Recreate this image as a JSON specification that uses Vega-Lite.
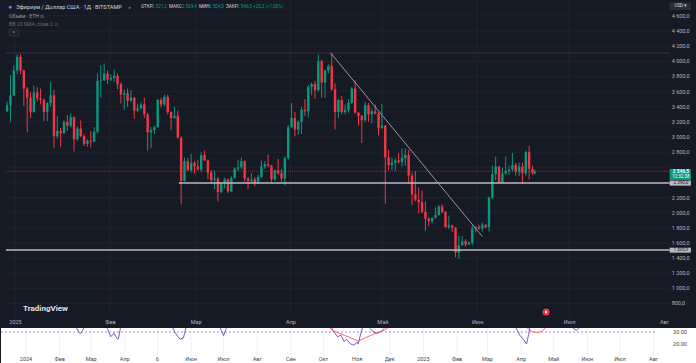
{
  "$schema": "https://vega.github.io/schema/vega-lite/v6.json",
  "padding": 0,
  "spacing": 0,
  "background": "#161A25",
  "config": {
    "view": {"stroke": null},
    "concat": {"spacing": 0},
    "axis": {"domain": false, "ticks": false, "title": null, "labelFont": "Roboto", "labelFontSize": 5.5},
    "text": {"font": "Roboto"}
  },
  "datasets": {
    "one": [{}],
    "levels": [
      {"v":800},{"v":1000},{"v":1200},{"v":1400},{"v":1600},{"v":1800},{"v":2000},{"v":2200},{"v":2400},{"v":2600},
      {"v":2800},{"v":3000},{"v":3200},{"v":3400},{"v":3600},{"v":3800},{"v":4000},{"v":4200},{"v":4400},{"v":4600}
    ],
    "ylabels": [
      {"v":800,"lab":"800,0"},{"v":1000,"lab":"1 000,0"},{"v":1200,"lab":"1 200,0"},{"v":1400,"lab":"1 400,0"},
      {"v":1600,"lab":"1 600,0"},{"v":1800,"lab":"1 800,0"},{"v":2000,"lab":"2 000,0"},{"v":2200,"lab":"2 200,0"},
      {"v":2800,"lab":"2 800,0"},{"v":3000,"lab":"3 000,0"},{"v":3200,"lab":"3 200,0"},{"v":3400,"lab":"3 400,0"},
      {"v":3600,"lab":"3 600,0"},{"v":3800,"lab":"3 800,0"},{"v":4000,"lab":"4 000,0"},{"v":4200,"lab":"4 200,0"},
      {"v":4400,"lab":"4 400,0"},{"v":4600,"lab":"4 600,0"}
    ],
    "rsilabels": [{"v":30,"lab":"30.00"},{"v":20,"lab":"20.00"}],
    "months24": [
      {"m":"2024-01-01","lab":"2024"},{"m":"2024-02-01","lab":"Фев"},{"m":"2024-03-01","lab":"Мар"},{"m":"2024-04-01","lab":"Апр"},
      {"m":"2024-05-01","lab":"6"},{"m":"2024-06-01","lab":"Июн"},{"m":"2024-07-01","lab":"Июл"},{"m":"2024-08-01","lab":"Авг"},
      {"m":"2024-09-01","lab":"Сен"},{"m":"2024-10-01","lab":"Окт"},{"m":"2024-11-01","lab":"Ноя"},{"m":"2024-12-01","lab":"Дек"},
      {"m":"2025-01-01","lab":"2025"},{"m":"2025-02-01","lab":"Фев"},{"m":"2025-03-01","lab":"Мар"},{"m":"2025-04-01","lab":"Апр"},
      {"m":"2025-05-01","lab":"Май"},{"m":"2025-06-01","lab":"Июн"},{"m":"2025-07-01","lab":"Июл"},{"m":"2025-08-01","lab":"Авг"}
    ],
    "candles": [
      {"d":"2024-03-01","o":3340,"h":3470,"l":3330,"c":3420},
      {"d":"2024-03-04","o":3420,"h":3820,"l":3200,"c":3550},
      {"d":"2024-03-07","o":3550,"h":3950,"l":3540,"c":3880},
      {"d":"2024-03-10","o":3880,"h":4090,"l":3830,"c":4060},
      {"d":"2024-03-13","o":4060,"h":4095,"l":3830,"c":3880},
      {"d":"2024-03-16","o":3880,"h":3890,"l":3410,"c":3640},
      {"d":"2024-03-19","o":3640,"h":3660,"l":3060,"c":3520},
      {"d":"2024-03-22","o":3520,"h":3590,"l":3250,"c":3330},
      {"d":"2024-03-25","o":3330,"h":3680,"l":3320,"c":3590},
      {"d":"2024-03-28","o":3590,"h":3660,"l":3470,"c":3510},
      {"d":"2024-03-31","o":3510,"h":3640,"l":3430,"c":3490},
      {"d":"2024-04-03","o":3490,"h":3510,"l":3210,"c":3330},
      {"d":"2024-04-06","o":3330,"h":3460,"l":3210,"c":3450},
      {"d":"2024-04-09","o":3450,"h":3730,"l":3400,"c":3550},
      {"d":"2024-04-12","o":3550,"h":3620,"l":2850,"c":3010},
      {"d":"2024-04-15","o":3010,"h":3280,"l":2980,"c":3080},
      {"d":"2024-04-18","o":3080,"h":3120,"l":2870,"c":3050},
      {"d":"2024-04-21","o":3050,"h":3220,"l":3040,"c":3200},
      {"d":"2024-04-24","o":3200,"h":3290,"l":3080,"c":3150},
      {"d":"2024-04-27","o":3150,"h":3310,"l":3130,"c":3260},
      {"d":"2024-04-30","o":3260,"h":3270,"l":2810,"c":2970},
      {"d":"2024-05-03","o":2970,"h":3140,"l":2950,"c":3110},
      {"d":"2024-05-06","o":3110,"h":3220,"l":3000,"c":3010},
      {"d":"2024-05-09","o":3010,"h":3040,"l":2880,"c":2910},
      {"d":"2024-05-12","o":2910,"h":2970,"l":2870,"c":2950},
      {"d":"2024-05-15","o":2950,"h":3080,"l":2860,"c":2940},
      {"d":"2024-05-18","o":2940,"h":3130,"l":2930,"c":3070},
      {"d":"2024-05-21","o":3070,"h":3840,"l":3050,"c":3740},
      {"d":"2024-05-24","o":3740,"h":3950,"l":3520,"c":3750},
      {"d":"2024-05-27","o":3750,"h":3970,"l":3740,"c":3840},
      {"d":"2024-05-30","o":3840,"h":3880,"l":3700,"c":3760},
      {"d":"2024-06-02","o":3760,"h":3830,"l":3740,"c":3780},
      {"d":"2024-06-05","o":3780,"h":3890,"l":3730,"c":3810},
      {"d":"2024-06-08","o":3810,"h":3840,"l":3630,"c":3700},
      {"d":"2024-06-11","o":3700,"h":3720,"l":3440,"c":3560},
      {"d":"2024-06-14","o":3560,"h":3630,"l":3360,"c":3580},
      {"d":"2024-06-17","o":3580,"h":3640,"l":3400,"c":3480},
      {"d":"2024-06-20","o":3480,"h":3620,"l":3460,"c":3520},
      {"d":"2024-06-23","o":3520,"h":3530,"l":3240,"c":3350},
      {"d":"2024-06-26","o":3350,"h":3440,"l":3330,"c":3380},
      {"d":"2024-06-29","o":3380,"h":3460,"l":3370,"c":3430},
      {"d":"2024-07-02","o":3430,"h":3520,"l":3250,"c":3300},
      {"d":"2024-07-05","o":3300,"h":3320,"l":2820,"c":3060},
      {"d":"2024-07-08","o":3060,"h":3130,"l":2850,"c":3090},
      {"d":"2024-07-11","o":3090,"h":3150,"l":3040,"c":3130},
      {"d":"2024-07-14","o":3130,"h":3500,"l":3120,"c":3490},
      {"d":"2024-07-17","o":3490,"h":3520,"l":3390,"c":3430},
      {"d":"2024-07-20","o":3430,"h":3560,"l":3410,"c":3530},
      {"d":"2024-07-23","o":3530,"h":3560,"l":3300,"c":3330},
      {"d":"2024-07-26","o":3330,"h":3340,"l":3090,"c":3250},
      {"d":"2024-07-29","o":3250,"h":3400,"l":3240,"c":3280},
      {"d":"2024-08-01","o":3280,"h":3350,"l":2980,"c":2990},
      {"d":"2024-08-04","o":2990,"h":3010,"l":2110,"c":2420},
      {"d":"2024-08-07","o":2420,"h":2730,"l":2410,"c":2680},
      {"d":"2024-08-10","o":2680,"h":2720,"l":2550,"c":2560},
      {"d":"2024-08-13","o":2560,"h":2780,"l":2530,"c":2660},
      {"d":"2024-08-16","o":2660,"h":2680,"l":2520,"c":2610},
      {"d":"2024-08-19","o":2610,"h":2700,"l":2560,"c":2570},
      {"d":"2024-08-22","o":2570,"h":2800,"l":2540,"c":2760},
      {"d":"2024-08-25","o":2760,"h":2820,"l":2680,"c":2690},
      {"d":"2024-08-28","o":2690,"h":2700,"l":2440,"c":2530},
      {"d":"2024-08-31","o":2530,"h":2560,"l":2400,"c":2430},
      {"d":"2024-09-03","o":2430,"h":2560,"l":2310,"c":2450},
      {"d":"2024-09-06","o":2450,"h":2470,"l":2150,"c":2270},
      {"d":"2024-09-09","o":2270,"h":2400,"l":2260,"c":2390},
      {"d":"2024-09-12","o":2390,"h":2460,"l":2320,"c":2440},
      {"d":"2024-09-15","o":2440,"h":2450,"l":2260,"c":2280},
      {"d":"2024-09-18","o":2280,"h":2480,"l":2270,"c":2460},
      {"d":"2024-09-21","o":2460,"h":2600,"l":2450,"c":2580},
      {"d":"2024-09-24","o":2580,"h":2700,"l":2550,"c":2600},
      {"d":"2024-09-27","o":2600,"h":2730,"l":2570,"c":2680},
      {"d":"2024-09-30","o":2680,"h":2690,"l":2410,"c":2450},
      {"d":"2024-10-03","o":2450,"h":2470,"l":2310,"c":2420},
      {"d":"2024-10-06","o":2420,"h":2520,"l":2400,"c":2440},
      {"d":"2024-10-09","o":2440,"h":2470,"l":2350,"c":2390},
      {"d":"2024-10-12","o":2390,"h":2500,"l":2380,"c":2470},
      {"d":"2024-10-15","o":2470,"h":2690,"l":2460,"c":2610},
      {"d":"2024-10-18","o":2610,"h":2680,"l":2580,"c":2640},
      {"d":"2024-10-21","o":2640,"h":2770,"l":2600,"c":2620},
      {"d":"2024-10-24","o":2620,"h":2630,"l":2390,"c":2440},
      {"d":"2024-10-27","o":2440,"h":2570,"l":2420,"c":2560},
      {"d":"2024-10-30","o":2560,"h":2710,"l":2500,"c":2520},
      {"d":"2024-11-02","o":2520,"h":2580,"l":2410,"c":2450},
      {"d":"2024-11-05","o":2450,"h":2740,"l":2360,"c":2720},
      {"d":"2024-11-08","o":2720,"h":3160,"l":2700,"c":3130},
      {"d":"2024-11-11","o":3130,"h":3450,"l":3120,"c":3250},
      {"d":"2024-11-14","o":3250,"h":3330,"l":3010,"c":3100},
      {"d":"2024-11-17","o":3100,"h":3220,"l":3030,"c":3200},
      {"d":"2024-11-20","o":3200,"h":3400,"l":3040,"c":3360},
      {"d":"2024-11-23","o":3360,"h":3500,"l":3280,"c":3340},
      {"d":"2024-11-26","o":3340,"h":3690,"l":3260,"c":3660},
      {"d":"2024-11-29","o":3660,"h":3720,"l":3550,"c":3700},
      {"d":"2024-12-02","o":3700,"h":3740,"l":3500,"c":3620},
      {"d":"2024-12-05","o":3620,"h":4090,"l":3600,"c":4000},
      {"d":"2024-12-08","o":4000,"h":4020,"l":3520,"c":3720},
      {"d":"2024-12-11","o":3720,"h":3890,"l":3520,"c":3880},
      {"d":"2024-12-14","o":3880,"h":3960,"l":3840,"c":3940},
      {"d":"2024-12-17","o":3940,"h":4110,"l":3610,"c":3630},
      {"d":"2024-12-20","o":3630,"h":3710,"l":3100,"c":3330},
      {"d":"2024-12-23","o":3330,"h":3500,"l":3250,"c":3490},
      {"d":"2024-12-26","o":3490,"h":3540,"l":3300,"c":3330},
      {"d":"2024-12-29","o":3330,"h":3430,"l":3300,"c":3360},
      {"d":"2025-01-01","o":3360,"h":3500,"l":3320,"c":3450},
      {"d":"2025-01-04","o":3450,"h":3660,"l":3440,"c":3640},
      {"d":"2025-01-07","o":3640,"h":3750,"l":3310,"c":3320},
      {"d":"2025-01-10","o":3320,"h":3330,"l":3150,"c":3280},
      {"d":"2025-01-13","o":3280,"h":3290,"l":2920,"c":3220},
      {"d":"2025-01-16","o":3220,"h":3460,"l":3200,"c":3420},
      {"d":"2025-01-19","o":3420,"h":3450,"l":3200,"c":3300},
      {"d":"2025-01-22","o":3300,"h":3380,"l":3180,"c":3340},
      {"d":"2025-01-25","o":3340,"h":3430,"l":3300,"c":3310},
      {"d":"2025-01-28","o":3310,"h":3330,"l":3020,"c":3120},
      {"d":"2025-01-31","o":3120,"h":3440,"l":3110,"c":3150},
      {"d":"2025-02-03","o":3150,"h":3160,"l":2120,"c":2730},
      {"d":"2025-02-06","o":2730,"h":2830,"l":2560,"c":2630},
      {"d":"2025-02-09","o":2630,"h":2720,"l":2560,"c":2660},
      {"d":"2025-02-12","o":2660,"h":2720,"l":2550,"c":2690},
      {"d":"2025-02-15","o":2690,"h":2790,"l":2650,"c":2670},
      {"d":"2025-02-18","o":2670,"h":2850,"l":2610,"c":2720},
      {"d":"2025-02-21","o":2720,"h":2850,"l":2620,"c":2760},
      {"d":"2025-02-24","o":2760,"h":2830,"l":2380,"c":2490},
      {"d":"2025-02-27","o":2490,"h":2530,"l":2100,"c":2240},
      {"d":"2025-03-02","o":2240,"h":2550,"l":2150,"c":2170},
      {"d":"2025-03-05","o":2170,"h":2330,"l":1990,"c":2140},
      {"d":"2025-03-08","o":2140,"h":2290,"l":1990,"c":2010},
      {"d":"2025-03-11","o":2010,"h":2150,"l":1760,"c":1920},
      {"d":"2025-03-14","o":1920,"h":1940,"l":1820,"c":1890},
      {"d":"2025-03-17","o":1890,"h":1940,"l":1860,"c":1930},
      {"d":"2025-03-20","o":1930,"h":2070,"l":1920,"c":1970},
      {"d":"2025-03-23","o":1970,"h":2100,"l":1960,"c":2080},
      {"d":"2025-03-26","o":2080,"h":2110,"l":1990,"c":2010},
      {"d":"2025-03-29","o":2010,"h":2020,"l":1800,"c":1810},
      {"d":"2025-04-01","o":1810,"h":1960,"l":1780,"c":1830},
      {"d":"2025-04-04","o":1830,"h":1840,"l":1740,"c":1800},
      {"d":"2025-04-07","o":1800,"h":1810,"l":1410,"c":1470},
      {"d":"2025-04-10","o":1470,"h":1690,"l":1385,"c":1570},
      {"d":"2025-04-13","o":1570,"h":1690,"l":1560,"c":1620},
      {"d":"2025-04-16","o":1620,"h":1650,"l":1550,"c":1580},
      {"d":"2025-04-19","o":1580,"h":1620,"l":1570,"c":1600},
      {"d":"2025-04-22","o":1600,"h":1830,"l":1570,"c":1790},
      {"d":"2025-04-25","o":1790,"h":1820,"l":1740,"c":1810},
      {"d":"2025-04-28","o":1810,"h":1840,"l":1770,"c":1790},
      {"d":"2025-05-01","o":1790,"h":1870,"l":1750,"c":1840},
      {"d":"2025-05-04","o":1840,"h":1850,"l":1790,"c":1810},
      {"d":"2025-05-07","o":1810,"h":2210,"l":1750,"c":2200},
      {"d":"2025-05-10","o":2200,"h":2620,"l":2180,"c":2510},
      {"d":"2025-05-13","o":2510,"h":2740,"l":2430,"c":2610},
      {"d":"2025-05-16","o":2610,"h":2620,"l":2390,"c":2400},
      {"d":"2025-05-19","o":2400,"h":2590,"l":2390,"c":2520},
      {"d":"2025-05-22","o":2520,"h":2740,"l":2500,"c":2550},
      {"d":"2025-05-25","o":2550,"h":2620,"l":2500,"c":2570},
      {"d":"2025-05-28","o":2570,"h":2790,"l":2540,"c":2630},
      {"d":"2025-05-31","o":2630,"h":2660,"l":2490,"c":2540},
      {"d":"2025-06-03","o":2540,"h":2660,"l":2480,"c":2610},
      {"d":"2025-06-06","o":2610,"h":2660,"l":2380,"c":2520},
      {"d":"2025-06-09","o":2520,"h":2820,"l":2490,"c":2800},
      {"d":"2025-06-12","o":2800,"h":2880,"l":2440,"c":2580},
      {"d":"2025-06-15","o":2580,"h":2620,"l":2500,"c":2521.2},
      {"d":"2025-06-17","o":2521.2,"h":2569.4,"l":2504.5,"c":2546.5}
    ],
    "rsi": [
      {"t":"2023-12-10","v":50},{"t":"2024-02-10","v":45},{"t":"2024-02-18","v":31},{"t":"2024-02-20","v":28.5},
      {"t":"2024-02-22","v":31},{"t":"2024-03-01","v":45},{"t":"2024-03-13","v":40},{"t":"2024-03-16","v":33},
      {"t":"2024-03-19","v":26},{"t":"2024-03-22","v":29},{"t":"2024-03-25","v":24.5},{"t":"2024-03-26","v":24},
      {"t":"2024-03-28","v":33},{"t":"2024-04-01","v":42},{"t":"2024-05-04","v":45},{"t":"2024-05-13","v":38},
      {"t":"2024-05-17","v":30},{"t":"2024-05-20","v":26},{"t":"2024-05-22","v":24},{"t":"2024-05-25","v":25},
      {"t":"2024-05-28","v":36},{"t":"2024-06-01","v":45},{"t":"2024-06-25","v":40},{"t":"2024-06-29","v":31},
      {"t":"2024-07-01","v":27},{"t":"2024-07-03","v":32},{"t":"2024-07-08","v":45},{"t":"2024-09-28","v":45},
      {"t":"2024-10-06","v":38},{"t":"2024-10-10","v":31},{"t":"2024-10-14","v":26},{"t":"2024-10-17","v":27.5},
      {"t":"2024-10-20","v":22},{"t":"2024-10-22","v":24},{"t":"2024-10-26","v":20},{"t":"2024-10-29","v":19},
      {"t":"2024-11-01","v":21.5},{"t":"2024-11-02","v":20},{"t":"2024-11-04","v":27.5},{"t":"2024-11-06","v":34},
      {"t":"2024-11-10","v":40},{"t":"2024-11-13","v":33},{"t":"2024-11-16","v":30},{"t":"2024-11-20","v":29},
      {"t":"2024-11-23","v":30.5},{"t":"2024-11-26","v":33},{"t":"2024-11-30","v":42},{"t":"2025-03-13","v":45},
      {"t":"2025-03-24","v":38},{"t":"2025-03-27","v":34},{"t":"2025-03-31","v":27},{"t":"2025-04-03","v":24},
      {"t":"2025-04-06","v":20},{"t":"2025-04-08","v":28},{"t":"2025-04-09","v":34},{"t":"2025-04-13","v":42},
      {"t":"2025-05-12","v":45},{"t":"2025-05-19","v":33},{"t":"2025-05-22","v":31.5},{"t":"2025-05-24","v":33},
      {"t":"2025-05-31","v":45},{"t":"2025-09-09","v":50}
    ],
    "ma": [
      {"t":"2024-09-10","v":50},{"t":"2024-09-28","v":40},{"t":"2024-10-10","v":31},{"t":"2024-10-21","v":27},
      {"t":"2024-11-02","v":22.5},{"t":"2024-11-13","v":27},{"t":"2024-11-26","v":31.5},{"t":"2024-12-07","v":38},
      {"t":"2024-12-20","v":50},{"t":"2025-03-20","v":50},{"t":"2025-04-01","v":38},{"t":"2025-04-07","v":33},
      {"t":"2025-04-12","v":30},{"t":"2025-04-17","v":29.5},{"t":"2025-04-21","v":31},{"t":"2025-04-27","v":38},
      {"t":"2025-05-10","v":50}
    ],
    "months25": [
      {"m":"2025-01-01"},{"m":"2025-02-01"},{"m":"2025-03-01"},{"m":"2025-04-01"},
      {"m":"2025-05-01"},{"m":"2025-06-01"},{"m":"2025-07-01"}
    ]
  },
  "vconcat": [
    {
      "width": 696,
      "height": 326,
      "view": {"fill": "#161A25", "stroke": null},
      "resolve": {"scale": {"x": "independent"}, "axis": {"x": "independent"}},
      "layer": [
        {
          "layer": [
            {
              "data": {"name": "months25"},
              "mark": {"type": "rule", "color": "#1F2330", "strokeWidth": 1},
              "encoding": {
                "x": {
                  "field": "m", "type": "temporal",
                  "scale": {"type": "utc", "domain": [{"year":2024,"month":12,"date":27,"hours":10,"utc":true},{"year":2025,"month":8,"date":11,"hours":19,"utc":true}]},
                  "axis": {
                    "orient": "bottom", "offset": -9, "labelPadding": 1, "grid": false,
                    "values": [
                      {"year":2025,"month":1,"date":1,"utc":true},{"year":2025,"month":2,"date":1,"utc":true},
                      {"year":2025,"month":3,"date":1,"utc":true},{"year":2025,"month":4,"date":1,"utc":true},
                      {"year":2025,"month":5,"date":1,"utc":true},{"year":2025,"month":6,"date":1,"utc":true},
                      {"year":2025,"month":7,"date":1,"utc":true},{"year":2025,"month":8,"date":1,"utc":true}
                    ],
                    "labelExpr": "utcmonth(datum.value)==0 ? utcFormat(datum.value,'%Y') : ['Янв','Фев','Мар','Апр','Май','Июн','Июл','Авг','Сен','Окт','Ноя','Дек'][utcmonth(datum.value)]",
                    "labelColor": "#B2B5BE", "labelFontSize": 5.5, "labelOverlap": false, "labelFlush": false, "labelBound": false
                  }
                },
                "y": {"datum": 4798, "scale": {"domain": [488, 4798], "nice": false, "zero": false}, "axis": null},
                "y2": {"datum": 621}
              }
            },
            {
              "data": {"name": "one"},
              "mark": {"type": "point", "filled": true, "color": "#F23645", "size": 50, "opacity": 1},
              "encoding": {
                "x": {"datum": {"year":2025,"month":6,"date":23,"hours":12,"utc":true}, "type": "temporal"},
                "y": {"datum": 687}
              }
            },
            {
              "data": {"name": "one"},
              "mark": {"type": "point", "filled": true, "color": "#FFFFFF", "size": 6, "opacity": 0.9},
              "encoding": {
                "x": {"datum": {"year":2025,"month":6,"date":23,"hours":12,"utc":true}, "type": "temporal"},
                "y": {"datum": 687}
              }
            }
          ]
        },
        {
          "data": {"name": "candles"},
          "layer": [
            {
              "data": {"name": "levels"},
              "mark": {"type": "rule", "color": "#1F2330", "strokeWidth": 1},
              "encoding": {
                "x": {"datum": {"year":2024,"month":2,"date":29,"utc":true}, "type": "temporal", "axis": null,
                      "scale": {"type": "utc", "domain": [{"year":2024,"month":2,"date":29,"utc":true},{"year":2025,"month":11,"date":5,"utc":true}]}},
                "x2": {"datum": {"year":2025,"month":10,"date":16,"utc":true}},
                "y": {"field": "v", "type": "quantitative", "axis": null,
                      "scale": {"domain": [488, 4798], "nice": false, "zero": false}}
              }
            },
            {
              "mark": {"type": "rule", "strokeWidth": 1},
              "encoding": {
                "x": {"field": "d", "type": "temporal"},
                "y": {"field": "l", "type": "quantitative"},
                "y2": {"field": "h"},
                "color": {"condition": {"test": "datum.c >= datum.o", "value": "#089981"}, "value": "#F23645"}
              }
            },
            {
              "mark": {"type": "bar", "size": 2.4},
              "encoding": {
                "x": {"field": "d", "type": "temporal"},
                "y": {"field": "o", "type": "quantitative"},
                "y2": {"field": "c"},
                "color": {"condition": {"test": "datum.c >= datum.o", "value": "#089981"}, "value": "#F23645"}
              }
            },
            {
              "data": {"name": "ylabels"},
              "mark": {"type": "text", "align": "left", "baseline": "middle", "fontSize": 5.5, "color": "#B2B5BE", "dx": 2},
              "encoding": {
                "x": {"datum": {"year":2025,"month":10,"date":16,"utc":true}, "type": "temporal"},
                "y": {"field": "v", "type": "quantitative"},
                "text": {"field": "lab"}
              }
            },
            {
              "data": {"name": "one"},
              "mark": {"type": "rule", "color": "#3A3140", "strokeWidth": 1},
              "encoding": {
                "x": {"datum": {"year":2024,"month":2,"date":29,"utc":true}, "type": "temporal"},
                "x2": {"datum": {"year":2025,"month":10,"date":16,"utc":true}},
                "y": {"datum": 4111}
              }
            },
            {
              "data": {"name": "one"},
              "mark": {"type": "rule", "color": "#F23645", "opacity": 0.55, "strokeWidth": 1, "strokeDash": [1, 1]},
              "encoding": {
                "x": {"datum": {"year":2024,"month":2,"date":29,"utc":true}, "type": "temporal"},
                "x2": {"datum": {"year":2025,"month":10,"date":16,"utc":true}},
                "y": {"datum": 2546.5}
              }
            },
            {
              "data": {"name": "one"},
              "mark": {"type": "rule", "color": "#B8BBC3", "strokeWidth": 1.6},
              "encoding": {
                "x": {"datum": {"year":2024,"month":8,"date":2,"utc":true}, "type": "temporal"},
                "x2": {"datum": {"year":2025,"month":10,"date":16,"utc":true}},
                "y": {"datum": 2392}
              }
            },
            {
              "data": {"name": "one"},
              "mark": {"type": "rule", "color": "#B8BBC3", "strokeWidth": 1.6},
              "encoding": {
                "x": {"datum": {"year":2024,"month":2,"date":29,"utc":true}, "type": "temporal"},
                "x2": {"datum": {"year":2025,"month":10,"date":16,"utc":true}},
                "y": {"datum": 1505.9}
              }
            },
            {
              "data": {"name": "one"},
              "mark": {"type": "rule", "color": "#9598A1", "strokeWidth": 1},
              "encoding": {
                "x": {"datum": {"year":2024,"month":12,"date":16,"utc":true}, "type": "temporal"},
                "x2": {"datum": {"year":2025,"month":5,"date":1,"utc":true}},
                "y": {"datum": 4112},
                "y2": {"datum": 1685}
              }
            },
            {
              "data": {"name": "one"},
              "mark": {"type": "rect", "color": "#089981"},
              "encoding": {
                "x": {"datum": {"year":2025,"month":10,"date":16,"utc":true}, "type": "temporal"},
                "x2": {"datum": {"year":2025,"month":11,"date":4,"utc":true}},
                "y": {"datum": 2577}, "y2": {"datum": 2432}
              }
            },
            {
              "data": {"name": "one"},
              "mark": {"type": "rect", "color": "#B8BBC3"},
              "encoding": {
                "x": {"datum": {"year":2025,"month":10,"date":16,"utc":true}, "type": "temporal"},
                "x2": {"datum": {"year":2025,"month":11,"date":4,"utc":true}},
                "y": {"datum": 2425}, "y2": {"datum": 2357}
              }
            },
            {
              "data": {"name": "one"},
              "mark": {"type": "rect", "color": "#B8BBC3"},
              "encoding": {
                "x": {"datum": {"year":2025,"month":10,"date":16,"utc":true}, "type": "temporal"},
                "x2": {"datum": {"year":2025,"month":11,"date":4,"utc":true}},
                "y": {"datum": 1537}, "y2": {"datum": 1471}
              }
            },
            {
              "data": {"name": "one"},
              "mark": {"type": "rect", "color": "#2A2E39"},
              "encoding": {
                "x": {"datum": {"year":2025,"month":10,"date":16,"utc":true}, "type": "temporal"},
                "x2": {"datum": {"year":2025,"month":11,"date":4,"utc":true}},
                "y": {"datum": 4778}, "y2": {"datum": 4679}
              }
            },
            {
              "data": {"name": "one"},
              "mark": {"type": "text", "align": "center", "baseline": "middle", "fontSize": 4.8, "fontWeight": "bold", "color": "#FFFFFF"},
              "encoding": {
                "x": {"datum": {"year":2025,"month":10,"date":26,"utc":true}, "type": "temporal"},
                "y": {"datum": 2540},
                "text": {"value": "2 546,5"}
              }
            },
            {
              "data": {"name": "one"},
              "mark": {"type": "text", "align": "center", "baseline": "middle", "fontSize": 4.5, "color": "#FFFFFF"},
              "encoding": {
                "x": {"datum": {"year":2025,"month":10,"date":26,"utc":true}, "type": "temporal"},
                "y": {"datum": 2472},
                "text": {"value": "12:32:38"}
              }
            },
            {
              "data": {"name": "one"},
              "mark": {"type": "text", "align": "center", "baseline": "middle", "fontSize": 4.5, "color": "#131722"},
              "encoding": {
                "x": {"datum": {"year":2025,"month":10,"date":26,"utc":true}, "type": "temporal"},
                "y": {"datum": 2391},
                "text": {"value": "2 390,0"}
              }
            },
            {
              "data": {"name": "one"},
              "mark": {"type": "text", "align": "center", "baseline": "middle", "fontSize": 4.5, "color": "#131722"},
              "encoding": {
                "x": {"datum": {"year":2025,"month":10,"date":26,"utc":true}, "type": "temporal"},
                "y": {"datum": 1504},
                "text": {"value": "1 505,9"}
              }
            },
            {
              "data": {"name": "one"},
              "mark": {"type": "text", "align": "center", "baseline": "middle", "fontSize": 4.6, "color": "#D1D4DC"},
              "encoding": {
                "x": {"datum": {"year":2025,"month":10,"date":26,"utc":true}, "type": "temporal"},
                "y": {"datum": 4728},
                "text": {"value": "USD ▾"}
              }
            },
            {
              "data": {"name": "one"},
              "mark": {"type": "text", "align": "left", "baseline": "middle", "fontSize": 7, "color": "#6F83D6", "dx": 2},
              "encoding": {
                "x": {"datum": {"year":2024,"month":2,"date":29,"utc":true}, "type": "temporal"},
                "y": {"datum": 4719},
                "text": {"value": "●"}
              }
            },
            {
              "data": {"name": "one"},
              "mark": {"type": "text", "align": "left", "baseline": "middle", "fontSize": 5.6, "color": "#D1D4DC", "dx": 10},
              "encoding": {
                "x": {"datum": {"year":2024,"month":2,"date":29,"utc":true}, "type": "temporal"},
                "y": {"datum": 4719},
                "text": {"value": "Эфириум / Доллар США · 1Д · BITSTAMP"}
              }
            },
            {
              "data": {"name": "one"},
              "mark": {"type": "text", "align": "left", "baseline": "middle", "fontSize": 5, "color": "#089981", "dx": 122},
              "encoding": {
                "x": {"datum": {"year":2024,"month":2,"date":29,"utc":true}, "type": "temporal"},
                "y": {"datum": 4719},
                "text": {"value": "●"}
              }
            },
            {
              "data": {"name": "one"},
              "mark": {"type": "text", "align": "left", "baseline": "middle", "fontSize": 4.6, "color": "#D1D4DC", "dx": 135},
              "encoding": {"x": {"datum": {"year":2024,"month":2,"date":29,"utc":true}, "type": "temporal"}, "y": {"datum": 4719}, "text": {"value": "ОТКР"}}
            },
            {
              "data": {"name": "one"},
              "mark": {"type": "text", "align": "left", "baseline": "middle", "fontSize": 4.6, "color": "#089981", "dx": 146},
              "encoding": {"x": {"datum": {"year":2024,"month":2,"date":29,"utc":true}, "type": "temporal"}, "y": {"datum": 4719}, "text": {"value": "2 521,2"}}
            },
            {
              "data": {"name": "one"},
              "mark": {"type": "text", "align": "left", "baseline": "middle", "fontSize": 4.6, "color": "#D1D4DC", "dx": 163},
              "encoding": {"x": {"datum": {"year":2024,"month":2,"date":29,"utc":true}, "type": "temporal"}, "y": {"datum": 4719}, "text": {"value": "МАКС"}}
            },
            {
              "data": {"name": "one"},
              "mark": {"type": "text", "align": "left", "baseline": "middle", "fontSize": 4.6, "color": "#089981", "dx": 176},
              "encoding": {"x": {"datum": {"year":2024,"month":2,"date":29,"utc":true}, "type": "temporal"}, "y": {"datum": 4719}, "text": {"value": "2 569,4"}}
            },
            {
              "data": {"name": "one"},
              "mark": {"type": "text", "align": "left", "baseline": "middle", "fontSize": 4.6, "color": "#D1D4DC", "dx": 193},
              "encoding": {"x": {"datum": {"year":2024,"month":2,"date":29,"utc":true}, "type": "temporal"}, "y": {"datum": 4719}, "text": {"value": "МИН"}}
            },
            {
              "data": {"name": "one"},
              "mark": {"type": "text", "align": "left", "baseline": "middle", "fontSize": 4.6, "color": "#089981", "dx": 203},
              "encoding": {"x": {"datum": {"year":2024,"month":2,"date":29,"utc":true}, "type": "temporal"}, "y": {"datum": 4719}, "text": {"value": "2 504,5"}}
            },
            {
              "data": {"name": "one"},
              "mark": {"type": "text", "align": "left", "baseline": "middle", "fontSize": 4.6, "color": "#D1D4DC", "dx": 220},
              "encoding": {"x": {"datum": {"year":2024,"month":2,"date":29,"utc":true}, "type": "temporal"}, "y": {"datum": 4719}, "text": {"value": "ЗАКР"}}
            },
            {
              "data": {"name": "one"},
              "mark": {"type": "text", "align": "left", "baseline": "middle", "fontSize": 4.6, "color": "#089981", "dx": 231},
              "encoding": {"x": {"datum": {"year":2024,"month":2,"date":29,"utc":true}, "type": "temporal"}, "y": {"datum": 4719}, "text": {"value": "2 546,5 +25,2 (+1,00%)"}}
            },
            {
              "data": {"name": "one"},
              "mark": {"type": "text", "align": "left", "baseline": "middle", "fontSize": 5.2, "color": "#9598A1", "dx": 3},
              "encoding": {"x": {"datum": {"year":2024,"month":2,"date":29,"utc":true}, "type": "temporal"}, "y": {"datum": 4600}, "text": {"value": "Объём · ETH  ⊙"}}
            },
            {
              "data": {"name": "one"},
              "mark": {"type": "text", "align": "left", "baseline": "middle", "fontSize": 5.2, "color": "#6A6D78", "dx": 3},
              "encoding": {"x": {"datum": {"year":2024,"month":2,"date":29,"utc":true}, "type": "temporal"}, "y": {"datum": 4488}, "text": {"value": "BB 20 SMA close 2  ⊙"}}
            },
            {
              "data": {"name": "one"},
              "mark": {"type": "rect", "color": "#1E222D", "stroke": "#363A45", "strokeWidth": 0.6},
              "encoding": {
                "x": {"datum": {"year":2024,"month":3,"date":2,"hours":16,"utc":true}, "type": "temporal"},
                "x2": {"datum": {"year":2024,"month":3,"date":11,"hours":12,"utc":true}},
                "y": {"datum": 4428}, "y2": {"datum": 4335}
              }
            },
            {
              "data": {"name": "one"},
              "mark": {"type": "text", "align": "center", "baseline": "middle", "fontSize": 5, "color": "#B2B5BE"},
              "encoding": {"x": {"datum": {"year":2024,"month":3,"date":7,"utc":true}, "type": "temporal"}, "y": {"datum": 4370}, "text": {"value": "^"}}
            },
            {
              "data": {"name": "one"},
              "mark": {"type": "text", "align": "left", "baseline": "middle", "fontSize": 8, "fontWeight": "bold", "color": "#E0E3EB", "dx": 17},
              "encoding": {"x": {"datum": {"year":2024,"month":2,"date":29,"utc":true}, "type": "temporal"}, "y": {"datum": 726}, "text": {"value": "TradingView"}}
            }
          ]
        }
      ]
    },
    {
      "width": 696,
      "height": 37,
      "view": {"fill": "#FFFFFF", "stroke": null},
      "layer": [
        {
          "data": {"name": "months24"},
          "mark": {"type": "rule", "color": "#EEF0F4", "strokeWidth": 1},
          "encoding": {
            "x": {"field": "m", "type": "temporal", "axis": null,
                  "scale": {"type": "utc", "domain": [{"year":2023,"month":12,"date":9,"utc":true},{"year":2025,"month":9,"date":10,"utc":true}]}},
            "y": {"datum": 33.33, "axis": null, "scale": {"domain": [2.5, 33.33], "nice": false, "zero": false}},
            "y2": {"datum": 10}
          }
        },
        {
          "data": {"name": "one"},
          "mark": {"type": "rule", "color": "#9E93D4", "strokeDash": [2, 2], "strokeWidth": 1},
          "encoding": {
            "x": {"datum": {"year":2023,"month":12,"date":9,"utc":true}, "type": "temporal"},
            "x2": {"datum": {"year":2025,"month":8,"date":3,"utc":true}},
            "y": {"datum": 30}
          }
        },
        {
          "data": {"name": "rsi"},
          "mark": {"type": "line", "clip": true, "color": "#7E57C2", "strokeWidth": 1},
          "encoding": {
            "x": {"field": "t", "type": "temporal"},
            "y": {"field": "v", "type": "quantitative"}
          }
        },
        {
          "data": {"name": "ma"},
          "mark": {"type": "line", "clip": true, "color": "#F7525F", "strokeWidth": 1, "opacity": 0.85},
          "encoding": {
            "x": {"field": "t", "type": "temporal"},
            "y": {"field": "v", "type": "quantitative"}
          }
        },
        {
          "data": {"name": "months24"},
          "mark": {"type": "text", "align": "center", "baseline": "middle", "fontSize": 5.5, "color": "#434651"},
          "encoding": {
            "x": {"field": "m", "type": "temporal"},
            "y": {"datum": 7.5},
            "text": {"field": "lab"}
          }
        },
        {
          "data": {"name": "rsilabels"},
          "mark": {"type": "text", "align": "left", "baseline": "middle", "fontSize": 5.5, "color": "#434651"},
          "encoding": {
            "x": {"datum": {"year":2025,"month":8,"date":19,"utc":true}, "type": "temporal"},
            "y": {"field": "v", "type": "quantitative"},
            "text": {"field": "lab"}
          }
        }
      ]
    }
  ]
}
